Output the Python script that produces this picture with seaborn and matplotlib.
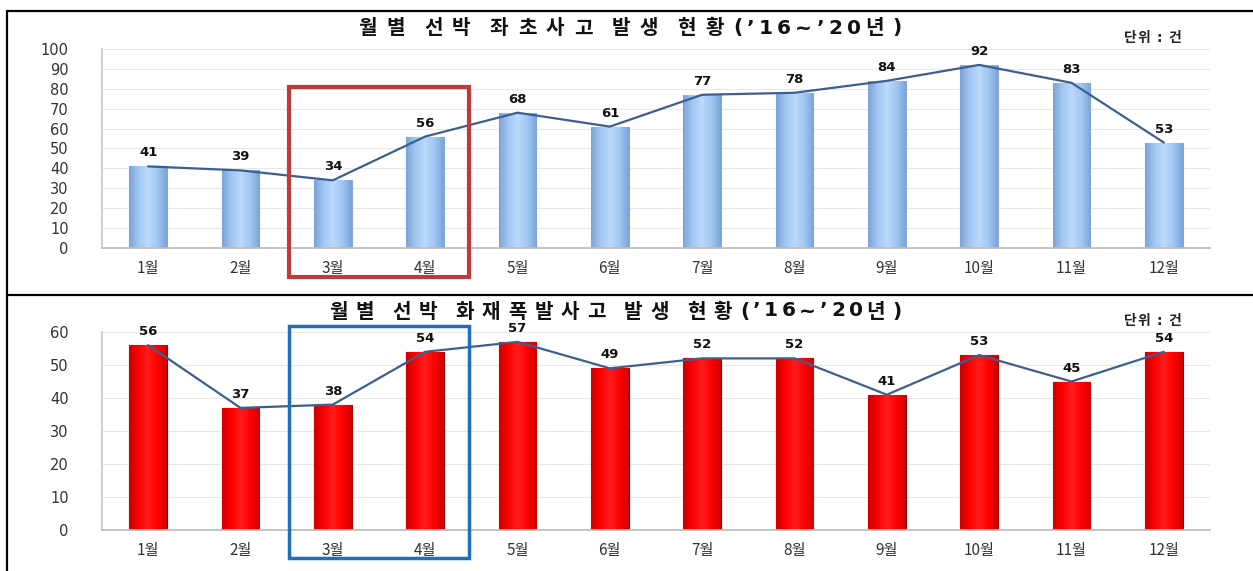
import numpy as np
import pandas as pd
import matplotlib
matplotlib.use("Agg")
import matplotlib.pyplot as plt
import matplotlib.colors as mcolors
from matplotlib.patches import Rectangle
from matplotlib.lines import Line2D
import seaborn as sns

months = ["1월", "2월", "3월", "4월", "5월", "6월", "7월", "8월", "9월", "10월", "11월", "12월"]
grounding = [41, 39, 34, 56, 68, 61, 77, 78, 84, 92, 83, 53]
fire = [56, 37, 38, 54, 57, 49, 52, 52, 41, 53, 45, 54]

title_top = "월별 선박 좌초사고 발생 현황(’16~’20년)"
title_bottom = "월별 선박 화재폭발사고 발생 현황(’16~’20년)"
unit_text = "단위 : 건"

sns.set_theme(style="white")
plt.rcParams["font.family"] = ["Noto Sans CJK KR", "DejaVu Sans"]

W, H = 1253, 571
fig = plt.figure(figsize=(W / 100, H / 100), dpi=100)
fig.patch.set_facecolor("white")
renderer = fig.canvas.get_renderer()


def fx(px):
    return px / W


def fy(py):
    return 1 - py / H


def is_narrow(ch):
    return ch.isascii() or ch in "’‘"


def char_family(ch):
    return "DejaVu Sans" if is_narrow(ch) else ["Noto Sans CJK KR", "DejaVu Sans"]


def spaced_text(text, left, right, y, size, word_gap=10, narrow_factor=0.45, **kw):
    """Lay a string out letter by letter so it spans left..right pixels."""
    widths = []
    for ch in text:
        if ch == " ":
            widths.append(None)
            continue
        t = fig.text(0, 0, ch, fontsize=size, family=char_family(ch), **kw)
        widths.append(t.get_window_extent(renderer).width)
        t.remove()
    chars = [c for c in text if c != " "]
    glyph_w = [w for w in widths if w is not None]
    n_space = len(widths) - len(glyph_w)
    weights = [narrow_factor if is_narrow(c) else 1.0 for c in chars[:-1]]
    track = (right - left - sum(glyph_w) - n_space * word_gap) / max(sum(weights), 1)
    cursor = left
    for ch, w in zip(text, widths):
        if w is None:
            cursor += word_gap
            continue
        fig.text(fx(cursor), fy(y), ch, fontsize=size, family=char_family(ch),
                 ha="left", va="center", **kw)
        cursor += w + track * (narrow_factor if is_narrow(ch) else 1.0)


def gradient_fill(ax, patches, edge, mid, light):
    cmap = mcolors.LinearSegmentedColormap.from_list(
        "cyl", [edge, mid, light, mid, edge])
    grad = np.linspace(0, 1, 128).reshape(1, -1)
    for p in patches:
        x0, y0 = p.get_x(), p.get_y()
        w, h = p.get_width(), p.get_height()
        im = ax.imshow(grad, cmap=cmap, aspect="auto",
                       extent=(x0, x0 + w, y0, y0 + h), zorder=2,
                       interpolation="bicubic")
        im.set_clip_path(p)
        p.set_facecolor("none")


def draw_panel(rect, values, ymax, step, bar_color, edge_col, grad_cols,
               title, title_span, title_y, unit_y, box, box_color, box_lw):
    ax = fig.add_axes(rect)
    df = pd.DataFrame({"month": months, "count": values})
    sns.barplot(data=df, x="month", y="count", ax=ax, color=bar_color,
                width=0.41, saturation=1, edgecolor=edge_col, linewidth=0.8,
                zorder=2)
    gradient_fill(ax, ax.patches, *grad_cols)
    sns.lineplot(x=np.arange(len(values)), y=values, ax=ax,
                 color="#3d5f8f", linewidth=1.6, zorder=4)
    for i, v in enumerate(values):
        ax.annotate(str(v), (i, v), xytext=(0, 5), textcoords="offset points",
                    ha="center", va="bottom", fontsize=9.5, fontweight="bold",
                    family="DejaVu Sans", color="#111111", zorder=5)
    ax.set_xlim(-0.5, len(values) - 0.5)
    ax.set_ylim(0, ymax)
    ax.set_yticks(np.arange(0, ymax + 1, step))
    ax.set_xlabel("")
    ax.set_ylabel("")
    ax.grid(axis="y", color="#e8e8e8", linewidth=0.8, zorder=0)
    ax.set_axisbelow(True)
    for s in ["top", "right"]:
        ax.spines[s].set_visible(False)
    ax.spines["left"].set_color("#c8c8c8")
    ax.spines["bottom"].set_color("#bdbdbd")
    ax.tick_params(axis="y", length=0, pad=24, labelsize=10.5,
                   labelcolor="#333333")
    ax.tick_params(axis="x", length=0, pad=9, labelsize=11,
                   labelcolor="#333333")
    for lab in ax.get_yticklabels():
        lab.set_family("DejaVu Sans")
    ax.set_facecolor("white")
    # highlight box around March and April
    x0, x1, y0, y1 = box
    ax.add_patch(Rectangle((x0, y0), x1 - x0, y1 - y0, fill=False,
                           edgecolor=box_color, linewidth=box_lw,
                           clip_on=False, zorder=6))
    spaced_text(title, title_span[0], title_span[1], title_y, 14.5,
                fontweight="bold", color="#111111")
    spaced_text(unit_text, 1124, 1181, unit_y, 10, word_gap=5,
                narrow_factor=1.0, fontweight="bold", color="#222222")
    return ax


top_rect = [fx(102), fy(248), fx(1210) - fx(102), fy(49) - fy(248)]
bot_rect = [fx(102), fy(530), fx(1210) - fx(102), fy(332) - fy(530)]

draw_panel(top_rect, grounding, 100, 10, "#9fc5f3", "#86a8d6",
           ("#7ba3d8", "#a1c7f3", "#bcdafb"),
           title_top, (358, 902), 28, 38, (1.53, 3.48, -14.6, 81.0),
           "#c0393b", 3.0)
draw_panel(bot_rect, fire, 60, 10, "#ff0000", "#a00000",
           ("#cc0000", "#ff0000", "#ff1e1e"),
           title_bottom, (329, 902), 311, 321, (1.53, 3.48, -8.5, 61.8),
           "#1f6fbf", 2.5)

# table frame lines
for (xa, xb, ya, yb) in [(7, W, 11, 11), (7, 7, 11, H), (7, W, 295, 295)]:
    fig.add_artist(Line2D([fx(xa), fx(xb)], [fy(ya), fy(yb)],
                          color="black", linewidth=1.6))

fig.savefig("out.png", dpi=100, facecolor="white")
